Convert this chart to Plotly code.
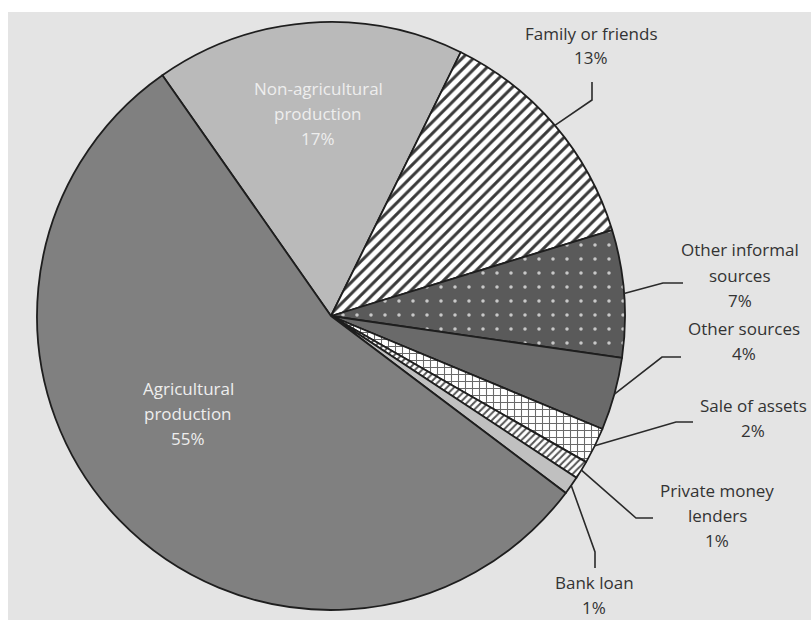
import math
import plotly.graph_objects as go

# Sources of finance, share of respondents (%)
labels = [
    "Non-agricultural production",
    "Family or friends",
    "Other informal sources",
    "Other sources",
    "Sale of assets",
    "Private money lenders",
    "Bank loan",
    "Agricultural production",
]
values = [17, 13, 7, 4, 2, 1, 1, 55]
label_lines = [
    ["Non-agricultural", "production"],
    ["Family or friends"],
    ["Other informal", "sources"],
    ["Other sources"],
    ["Sale of assets"],
    ["Private money", "lenders"],
    ["Bank loan"],
    ["Agricultural", "production"],
]

W, H = 811, 620

# pie placement (pixels)
CX, CY, R = 331, 316, 294
ROTATION = -35

fills = ["#bababa", "#ffffff", "#5a5a5a", "#6a6a6a", "#ffffff", "#ffffff", "#c0c0c0", "#808080"]
patterns = [
    dict(shape=""),
    dict(shape="/", bgcolor="#ffffff", fgcolor="#3a3a3a", size=8, solidity=0.38),
    dict(shape=".", bgcolor="#5a5a5a", fgcolor="#c8c8c8", size=14, solidity=0.05),
    dict(shape=""),
    dict(shape="+", bgcolor="#ffffff", fgcolor="#6a6a6a", size=7, solidity=0.28),
    dict(shape="/", bgcolor="#ffffff", fgcolor="#555555", size=5, solidity=0.4),
    dict(shape=""),
    dict(shape=""),
]


def px(x):
    return x / W


def py(y):
    return 1 - y / H


fig = go.Figure()
fig.add_trace(go.Pie(
    labels=labels,
    values=values,
    sort=False,
    direction="clockwise",
    rotation=ROTATION,
    textinfo="none",
    hoverinfo="label+percent",
    showlegend=False,
    domain=dict(x=[px(CX - R), px(CX + R)], y=[py(CY + R), py(CY - R)]),
    marker=dict(
        colors=fills,
        line=dict(color="#1e1e1e", width=1.8),
        pattern=dict(
            shape=[p.get("shape", "") for p in patterns],
            bgcolor=[p.get("bgcolor", c) for p, c in zip(patterns, fills)],
            fgcolor=[p.get("fgcolor", c) for p, c in zip(patterns, fills)],
            size=[p.get("size", 8) for p in patterns],
            solidity=[p.get("solidity", 0.3) for p in patterns],
            fillmode="replace",
        ),
    ),
))

# mid-angle of each slice, clockwise from 12 o'clock
total = sum(values)
mid_angles = []
acc = ROTATION
for v in values:
    span = 360 * v / total
    mid_angles.append(acc + span / 2)
    acc += span


def edge_point(angle_deg):
    a = math.radians(angle_deg)
    return CX + R * math.sin(a), CY - R * math.cos(a)


# label block centre x / first-line y; leader: end near the label, then elbow (pixels)
label_layout = [
    dict(x=318, y=88, color="#eeeeee", leader=None),
    dict(x=591, y=33, color="#333333", leader=[(592, 82), (592, 100)]),
    dict(x=740, y=250, color="#333333", leader=[(683, 283), (663, 283)]),
    dict(x=744, y=328, color="#333333", leader=[(681, 357), (662, 357)]),
    dict(x=753, y=405, color="#333333", leader=[(693, 422), (676, 422)]),
    dict(x=717, y=490, color="#333333", leader=[(653, 518), (636, 518)]),
    dict(x=594, y=582, color="#333333", leader=[(595, 568), (595, 552)]),
    dict(x=188, y=388, color="#eeeeee", leader=None),
]
LINE_STEP = 25
FONT = "Open Sans"

annotations = []
shapes = [
    # grey panel behind the chart
    dict(type="rect", xref="paper", yref="paper", x0=px(8), x1=1, y0=0, y1=py(12),
         fillcolor="#e4e4e4", line=dict(width=0), layer="below"),
]

for lines, v, lay, ang in zip(label_lines, values, label_layout, mid_angles):
    texts = lines + [f"{v}%"]
    for i, t in enumerate(texts):
        annotations.append(dict(
            x=px(lay["x"]), y=py(lay["y"] + i * LINE_STEP), xref="paper", yref="paper",
            text=t, showarrow=False, xanchor="center", yanchor="middle",
            font=dict(family=FONT, size=17, color=lay["color"]),
        ))
    if lay["leader"]:
        (x0, y0), (x1, y1) = lay["leader"]
        ex, ey = edge_point(ang)
        shapes.append(dict(
            type="path", xref="paper", yref="paper",
            path=f"M {px(x0)},{py(y0)} L {px(x1)},{py(y1)} L {px(ex)},{py(ey)}",
            line=dict(color="#2a2a2a", width=1.6), layer="above",
        ))

fig.update_layout(
    width=W, height=H,
    margin=dict(l=0, r=0, t=0, b=0),
    paper_bgcolor="#ffffff",
    plot_bgcolor="#ffffff",
    annotations=annotations,
    shapes=shapes,
)

fig.write_html("out.html")
